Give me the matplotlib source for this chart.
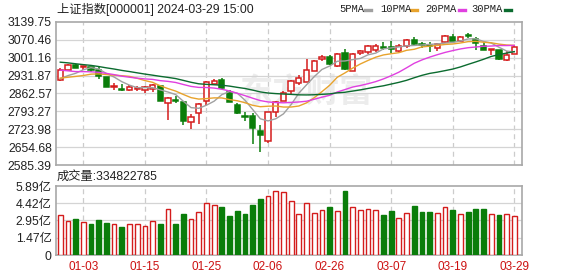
import numpy as np
import pandas as pd
import matplotlib
matplotlib.use("Agg")
import matplotlib.pyplot as plt
from matplotlib.lines import Line2D

plt.rcParams['font.family'] = ['Liberation Sans', 'Noto Sans CJK SC', 'DejaVu Sans']

# trading days shown (12-28 .. 03-29)
dates = ['12-28', '12-29', '01-02', '01-03', '01-04', '01-05', '01-08', '01-09', '01-10', '01-11',
         '01-12', '01-15', '01-16', '01-17', '01-18', '01-19', '01-22', '01-23', '01-24', '01-25',
         '01-26', '01-29', '01-30', '01-31', '02-01', '02-02', '02-05', '02-06', '02-07', '02-08',
         '02-19', '02-20', '02-21', '02-22', '02-23', '02-26', '02-27', '02-28', '02-29', '03-01',
         '03-04', '03-05', '03-06', '03-07', '03-08', '03-11', '03-12', '03-13', '03-14', '03-15',
         '03-18', '03-19', '03-20', '03-21', '03-22', '03-25', '03-26', '03-27', '03-28', '03-29']

opens = [2915, 2955, 2972, 2964, 2964, 2952, 2925, 2888, 2881, 2878,
         2880, 2875, 2880, 2890, 2826, 2838, 2828, 2751, 2787, 2832,
         2900, 2913, 2868, 2817, 2775, 2774, 2716, 2677, 2791, 2834,
         2873, 2904, 2908, 2951, 2995, 3003, 2968, 3021, 2951, 3019,
         3025, 3030, 3043, 3042, 3028, 3046, 3070, 3054, 3050, 3040,
         3062, 3080, 3067, 3090, 3072, 3046, 3033, 3030, 2994, 3017]
highs = [2960, 2977, 2976, 2970, 2967, 2968, 2927, 2902, 2900, 2897,
         2893, 2893, 2901, 2892, 2850, 2851, 2830, 2782, 2826, 2910,
         2918, 2924, 2877, 2826, 2790, 2787, 2740, 2791, 2835, 2872,
         2915, 2933, 2998, 2993, 3013, 3010, 3021, 3036, 3019, 3033,
         3051, 3055, 3062, 3067, 3055, 3075, 3080, 3063, 3063, 3060,
         3090, 3092, 3084, 3097, 3080, 3067, 3037, 3033, 3026, 3045]
lows = [2911, 2953, 2960, 2952, 2946, 2920, 2886, 2878, 2873, 2872,
        2873, 2866, 2868, 2832, 2760, 2826, 2739, 2724, 2745, 2818,
        2897, 2881, 2828, 2784, 2755, 2666, 2635, 2670, 2772, 2832,
        2856, 2897, 2907, 2948, 2987, 2974, 2967, 2955, 2951, 3011,
        3016, 3025, 3033, 3020, 3024, 3040, 3052, 3040, 3025, 3027,
        3058, 3066, 3063, 3078, 3033, 3033, 3013, 2994, 2987, 3015]
closes = [2954.7, 2974.9, 2962.3, 2967.3, 2954.4, 2929.2, 2887.5, 2893.3, 2877.7, 2886.7,
          2882.0, 2886.3, 2894.0, 2833.6, 2845.8, 2832.3, 2756.3, 2770.7, 2820.8, 2906.1,
          2910.2, 2883.4, 2830.5, 2788.6, 2771.0, 2730.2, 2702.2, 2789.5, 2829.7, 2865.9,
          2910.5, 2922.7, 2951.8, 2988.4, 3004.9, 2977.0, 3015.5, 2957.9, 3015.2, 3027.0,
          3047.8, 3047.9, 3039.9, 3034.0, 3046.0, 3068.5, 3055.9, 3049.0, 3046.0, 3054.6,
          3084.9, 3066.0, 3079.7, 3085.0, 3058.0, 3033.0, 3036.0, 2998.0, 3011.0, 3041.2]
# volume in 亿 shares
volumes = [3.41, 2.90, 3.07, 2.82, 2.67, 2.99, 2.76, 2.65, 2.39, 2.65,
           2.65, 2.48, 2.87, 2.67, 3.93, 2.67, 3.53, 3.07, 3.67, 4.44,
           4.27, 4.10, 3.36, 3.78, 3.53, 4.30, 4.78, 5.04, 5.43, 5.35,
           4.61, 3.50, 4.44, 3.58, 3.84, 4.10, 3.76, 5.46, 4.10, 3.84,
           3.93, 3.84, 3.41, 3.76, 3.16, 3.58, 4.18, 3.67, 3.67, 3.58,
           4.10, 3.84, 3.50, 3.67, 3.93, 3.93, 3.50, 3.41, 3.50, 3.35]
# closes before 12-28, only used to warm up the moving averages
prev_closes = [3054, 3068, 3067, 3043, 3062, 3041, 3031, 3038, 3021, 3029,
               3031, 3022, 2972, 2966, 2969, 2969, 2991, 2997, 2968, 2958,
               2942, 2930, 2932, 2902, 2918, 2914, 2918, 2898, 2914]

price_ticks = [2585.39, 2654.68, 2723.98, 2793.27, 2862.57, 2931.87, 3001.16, 3070.46, 3139.75]
vol_ticks = [0, 1.47, 2.95, 4.42, 5.89]
vol_labels = ['0', '1.47亿', '2.95亿', '4.42亿', '5.89亿']
date_ticks = ['01-03', '01-15', '01-25', '02-06', '02-26', '03-07', '03-19', '03-29']
ma_periods = [5, 10, 20, 30]
ma_colors = ['#a0a0a0', '#e8a32c', '#e040e0', '#0b6b2f']

RED = '#d41c1c'
GREEN = '#0a7d0a'
FRAME = '#a8a8a8'

o = np.array(opens, float)
h = np.array(highs, float)
l = np.array(lows, float)
c = np.array(closes, float)
v = np.array(volumes, float)
x = np.arange(len(dates))
up = c >= o

W, H = 578, 276
fig = plt.figure(figsize=(W / 100, H / 100), dpi=100)
ax = fig.add_axes([56 / W, 1 - 165 / H, 466 / W, 143 / H])
axv = fig.add_axes([56 / W, 1 - 255 / H, 466 / W, 69 / H])

tick_x = [dates.index(d) for d in date_ticks]

for a in (ax, axv):
    a.set_xlim(-0.55, 60.0)
    for s in a.spines.values():
        s.set_color(FRAME)
        s.set_linewidth(1.2)
    a.tick_params(length=0, labelsize=8.8, colors='#222222', pad=3)
    for t in tick_x:
        a.axvline(t, color='#cccccc', lw=0.9, ls=(0, (4, 3)), zorder=0)

# watermark (faint logo text behind the candles)
ax.text(31.9, 2866, '东方财富', fontsize=24, color='#ececec', ha='center', va='center',
        fontweight='bold', family=['Noto Sans CJK SC'], zorder=0)

# price panel
ax.set_ylim(price_ticks[0], price_ticks[-1])
ax.set_yticks(price_ticks)
ax.set_yticklabels(['%.2f' % t for t in price_ticks])
ax.set_xticks([])
for t in price_ticks[1:-1]:
    ax.axhline(t, color='#d4d4d4', lw=0.9, zorder=0)

col = np.where(up, RED, GREEN)
face = np.where(up, 'white', GREEN)
ax.vlines(x, l, h, colors=col, lw=1.1, zorder=2)
ax.bar(x, c - o, bottom=o, width=0.68, color=face, edgecolor=col, lw=1.1, zorder=3)

allc = pd.Series(prev_closes + closes, dtype=float)
for n, mc in zip(ma_periods, ma_colors):
    ma = allc.rolling(n).mean().to_numpy()[-len(closes):]
    ax.plot(x, ma, color=mc, lw=1.0, zorder=4)

# volume panel
axv.set_ylim(0, 5.89)
axv.set_yticks(vol_ticks)
axv.set_yticklabels(vol_labels)
axv.set_xticks(tick_x)
axv.set_xticklabels(date_ticks, color='#cc1111', fontsize=8.5)
axv.tick_params(axis='x', pad=4)
for t in vol_ticks[1:-1]:
    axv.axhline(t, color='#d4d4d4', lw=0.9, zorder=0)
axv.bar(x, v, width=0.62, color=face, edgecolor=col, lw=1.0, zorder=3)

# header texts
fig.text(57 / W, 1 - 9.5 / H, '上证指数[000001] 2024-03-29 15:00', fontsize=8.8,
         color='#222222', va='center', ha='left')
fig.text(57 / W, 1 - 177 / H, '成交量:334822785', fontsize=8.8,
         color='#222222', va='center', ha='left')

# legend
leg_x = [339, 380, 425, 471]
dash_x = [365, 411, 459, 505]
for n, mc, tx, dx in zip(ma_periods, ma_colors, leg_x, dash_x):
    fig.text(tx / W, 1 - 9.5 / H, '%dPMA' % n, fontsize=7.6, family=['Liberation Mono'],
             color='#222222', va='center', ha='left')
    fig.add_artist(Line2D([dx / W, (dx + 6) / W], [1 - 9.5 / H, 1 - 9.5 / H],
                          color=mc, lw=2.4, transform=fig.transFigure))

fig.savefig('out.png', dpi=100)
